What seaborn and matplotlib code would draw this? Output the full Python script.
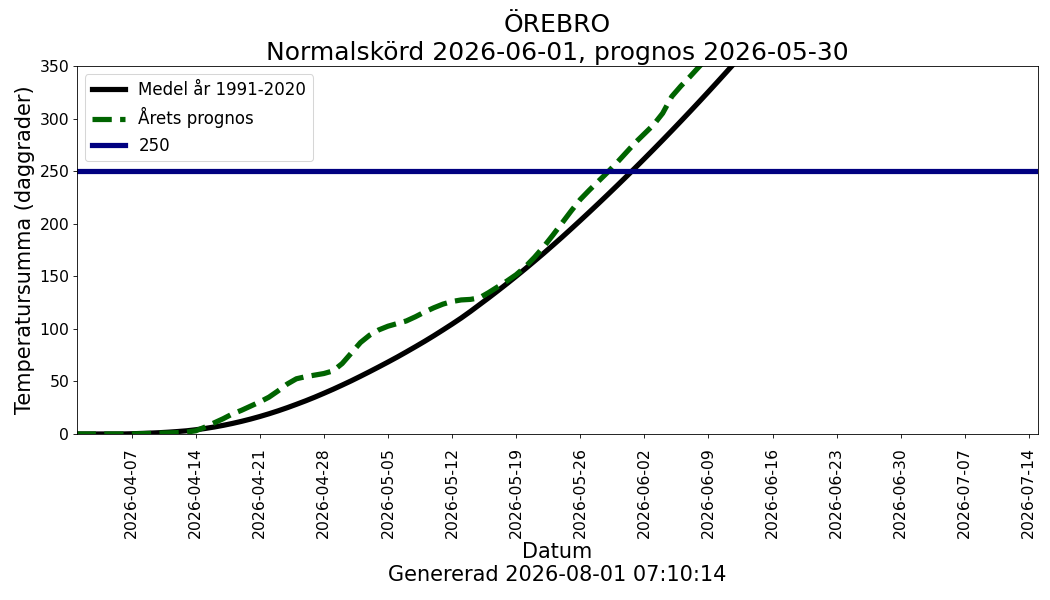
import matplotlib
matplotlib.use("Agg")
import matplotlib.pyplot as plt
import matplotlib.dates as mdates
import seaborn as sns
import pandas as pd

# ---- data (daily degree-day sums starting 2026-04-01) ----
start_date = "2026-04-01"
medel_values = [
    0, 0, 0, 0, 0, 0, 0.2, 0.5, 0.8, 1.2,
    1.7, 2.3, 3.0, 4.0, 5.2, 6.6, 8.2, 10.0, 12.0, 14.2,
    16.6, 19.2, 22.0, 25.0, 28.2, 31.5, 35.0, 38.7, 42.5, 46.5,
    50.6, 54.9, 59.3, 63.8, 68.4, 73.1, 78.0, 83.0, 88.1, 93.4,
    98.9, 104.5, 110.3, 116.5, 123.0, 129.5, 136.2, 143.0, 150.0, 157.1,
    164.4, 171.8, 179.4, 187.1, 195.0, 203.0, 211.1, 219.3, 227.6, 236.0,
    244.5, 253.1, 261.8, 270.6, 279.5, 288.5, 297.6, 306.8, 316.1, 325.5,
    335.0, 344.6, 354.3, 364.1, 374.0,
]
prognos_values = [
    0, 0, 0, 0, 0, 0, 0, 0.3, 0.5, 0.8,
    1.0, 1.3, 1.8, 3.0, 6.5, 10.5, 14.5, 19.0, 22.5, 26.5,
    30.5, 35.0, 41.0, 47.5, 52.5, 54.5, 56.0, 57.5, 60.0, 67.0,
    77.0, 87.0, 94.0, 99.0, 102.5, 105.0, 107.5, 111.5, 116.0, 120.0,
    123.5, 126.0, 127.5, 128.0, 129.5, 134.5, 140.0, 145.5, 151.5, 159.0,
    168.0, 178.0, 189.0, 200.5, 212.0, 223.0, 232.0, 240.5, 249.0, 258.0,
    267.5, 277.0, 285.5, 294.0, 305.0, 321.0, 331.0, 340.0, 349.5, 359.0,
    368.0,
]
threshold = 250
x_start, x_end = "2026-04-01", "2026-07-15"
tick_start, tick_end = "2026-04-07", "2026-07-14"
y_ticks = [0, 50, 100, 150, 200, 250, 300, 350]

title_text = "ÖREBRO\nNormalskörd 2026-06-01, prognos 2026-05-30"
xlabel_text = "Datum\nGenererad 2026-08-01 07:10:14"
ylabel_text = "Temperatursumma (daggrader)"

medel_df = pd.DataFrame({
    "datum": pd.date_range(start_date, periods=len(medel_values), freq="D"),
    "summa": medel_values,
})
prognos_df = pd.DataFrame({
    "datum": pd.date_range(start_date, periods=len(prognos_values), freq="D"),
    "summa": prognos_values,
})

fig, ax = plt.subplots(figsize=(14, 8), dpi=75)
fig.subplots_adjust(left=0.073, right=0.9886, top=0.89, bottom=0.2767)

sns.lineplot(data=medel_df, x="datum", y="summa", ax=ax, color="black",
             linewidth=5, label="Medel år 1991-2020")
sns.lineplot(data=prognos_df, x="datum", y="summa", ax=ax, color="#006400",
             linewidth=5, linestyle="--", label="Årets prognos")
ax.axhline(threshold, color="#000080", linewidth=5, label=str(threshold))

ax.set_xlim(pd.Timestamp(x_start), pd.Timestamp(x_end))
ax.set_ylim(0, 350)
ax.set_yticks(y_ticks)
ax.set_xticks(pd.date_range(tick_start, tick_end, freq="7D"))
ax.xaxis.set_major_formatter(mdates.DateFormatter("%Y-%m-%d"))
ax.tick_params(axis="x", labelrotation=90, labelsize=15, pad=9)
ax.tick_params(axis="y", labelsize=15)

ax.set_title(title_text, fontsize=24)
ax.set_xlabel(xlabel_text, fontsize=20)
ax.set_ylabel(ylabel_text, fontsize=20)
ax.legend(loc="upper left", fontsize=16)

fig.savefig("out.png", dpi=75)
